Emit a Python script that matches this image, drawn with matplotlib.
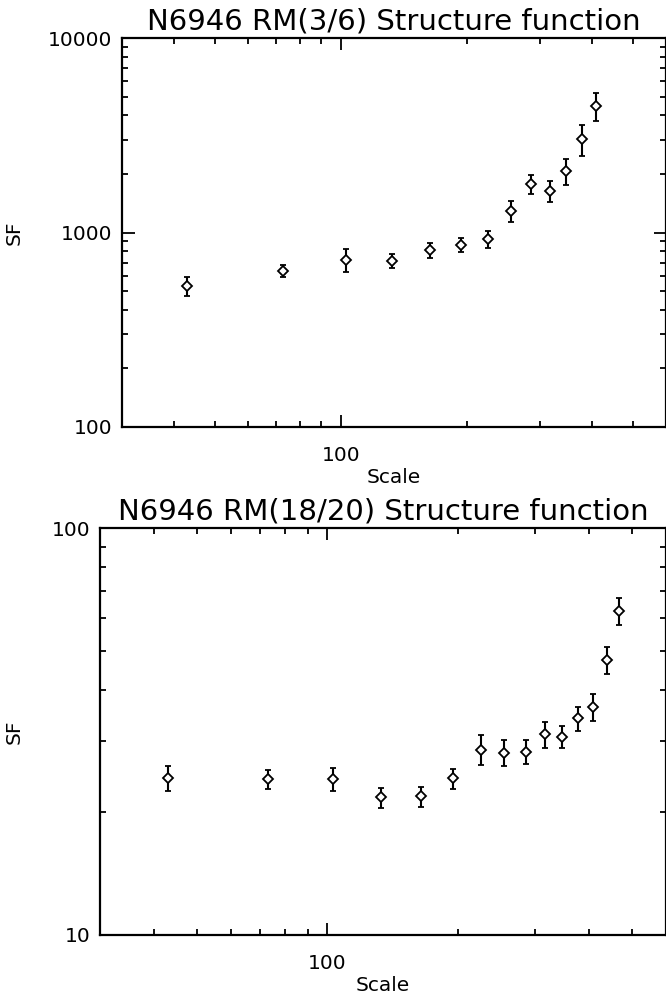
import matplotlib
matplotlib.use('Agg')
import matplotlib.pyplot as plt
from matplotlib.ticker import LogLocator, FormatStrFormatter, NullFormatter

# structure function of RM, two wavelength pairs
scale_36 = [43, 73, 103, 133, 164, 194, 225, 255, 286, 316, 346, 377, 408]
sf_36 = [530, 635, 725, 715, 815, 865, 925, 1290, 1780, 1635, 2075, 3030, 4480]
err_36 = [58, 47, 96, 60, 72, 73, 88, 163, 201, 208, 310, 555, 728]

scale_1820 = [43, 73, 103, 133, 164, 194, 225, 255, 286, 316, 346, 377, 408, 438, 469]
sf_1820 = [24.35, 24.13, 24.13, 21.79, 21.9, 24.27, 28.56, 28.02, 28.18, 31.13,
           30.66, 34.07, 36.28, 47.39, 62.56]
err_1820 = [1.73, 1.27, 1.53, 1.23, 1.24, 1.38, 2.4, 2.07, 1.88, 2.32,
            1.93, 2.28, 2.78, 3.7, 4.9]

plt.rcParams['font.family'] = 'DejaVu Sans'

fig = plt.figure(figsize=(6.66, 9.99), dpi=100)
ax1 = fig.add_axes([122/666, 1-427/999, 544/666, 389/999])
ax2 = fig.add_axes([100/666, 1-935/999, 566/666, 407/999])


def panel(ax, x, y, e, ylim, title):
    ax.errorbar(x, y, yerr=e, fmt='D', ms=5.5, mfc='white', mec='black', mew=1.3,
                ecolor='black', elinewidth=1.5, capsize=2, capthick=1.5, zorder=3)
    ax.set_xscale('log')
    ax.set_yscale('log')
    ax.set_xlim(30, 600)
    ax.set_ylim(*ylim)
    for a in (ax.xaxis, ax.yaxis):
        a.set_major_locator(LogLocator(base=10))
        a.set_minor_locator(LogLocator(base=10, subs=range(2, 10)))
        a.set_major_formatter(FormatStrFormatter('%d'))
        a.set_minor_formatter(NullFormatter())
    ax.tick_params(which='both', direction='in', top=True, right=True, width=1.3,
                   labelsize=14.5, color='black')
    ax.tick_params(axis='x', which='major', length=8.5, pad=14)
    ax.tick_params(axis='x', which='minor', length=4)
    ax.tick_params(axis='y', which='major', length=9, pad=7)
    ax.tick_params(axis='y', which='minor', length=4.5)
    for s in ax.spines.values():
        s.set_linewidth(1.6)
    ax.set_xlabel('Scale', fontsize=14.5, labelpad=2)
    ax.set_ylabel('SF', fontsize=14.5)
    # put the y label at a fixed distance from the figure edge
    left = ax.get_position().x0
    width = ax.get_position().width
    ax.yaxis.set_label_coords((24/666 - left) / width, 0.5)
    ax.set_title(title, fontsize=21, pad=6)


panel(ax1, scale_36, sf_36, err_36, (100, 10000), 'N6946 RM(3/6) Structure function')
panel(ax2, scale_1820, sf_1820, err_1820, (10, 100), 'N6946 RM(18/20) Structure function')

plt.savefig('out.png', dpi=100, facecolor='white')
